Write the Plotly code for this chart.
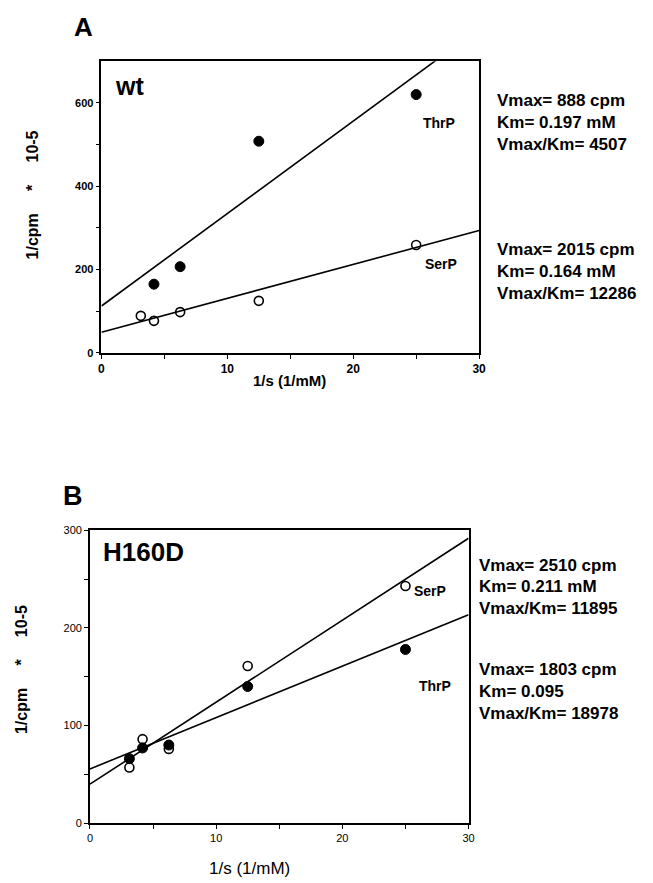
import plotly.graph_objects as go

W, H = 653, 883

# ---- data ----
# Panel A (wt)
a_thrp_x = [4.17, 6.25, 12.5, 25.0]
a_thrp_y = [165, 207, 508, 620]
a_serp_x = [3.125, 4.17, 6.25, 12.5, 25.0]
a_serp_y = [89, 77, 98, 125, 259]
a_vmax = {"ThrP": 888, "SerP": 2015}
a_km = {"ThrP": 0.197, "SerP": 0.164}

# Panel B (H160D)
b_serp_x = [3.125, 4.17, 6.25, 12.5, 25.0]
b_serp_y = [57, 86, 76, 161, 243]
b_thrp_x = [3.125, 4.17, 6.25, 12.5, 25.0]
b_thrp_y = [66, 77, 80, 140, 178]
b_vmax = {"SerP": 2510, "ThrP": 1803}
b_km = {"SerP": 0.211, "ThrP": 0.095}

x_ticks = [0, 5, 10, 15, 20, 25, 30]
x_ticktext = ["0", "", "10", "", "20", "", "30"]
a_y_ticks = [0, 100, 200, 300, 400, 500, 600]
a_y_ticktext = ["0", "", "200", "", "400", "", "600"]
b_y_ticks = [0, 50, 100, 150, 200, 250, 300]
b_y_ticktext = ["0", "", "100", "", "200", "", "300"]

FONT = "Liberation Sans, Arial, Helvetica, sans-serif"


def px(x):
    return x / W


def py(y):
    return 1 - y / H


def fit_line(vmax, km):
    xs = [0, 30]
    ys = [1e5 / vmax + 1e5 * km / vmax * x for x in xs]
    return xs, ys


fig = go.Figure()

line_style = dict(color="black", width=1.6)
filled = dict(symbol="circle", size=10, color="black", line=dict(color="black", width=1))
openm = dict(symbol="circle-open", size=9, color="black", line=dict(color="black", width=1.6))

# Panel A
for name in ["ThrP", "SerP"]:
    lx, ly = fit_line(a_vmax[name], a_km[name])
    fig.add_trace(go.Scatter(x=lx, y=ly, mode="lines", line=line_style, xaxis="x", yaxis="y", showlegend=False))
fig.add_trace(go.Scatter(x=a_thrp_x, y=a_thrp_y, mode="markers", marker=filled, xaxis="x", yaxis="y", showlegend=False))
fig.add_trace(go.Scatter(x=a_serp_x, y=a_serp_y, mode="markers", marker=openm, xaxis="x", yaxis="y", showlegend=False))

# Panel B
for name in ["SerP", "ThrP"]:
    lx, ly = fit_line(b_vmax[name], b_km[name])
    fig.add_trace(go.Scatter(x=lx, y=ly, mode="lines", line=line_style, xaxis="x2", yaxis="y2", showlegend=False))
fig.add_trace(go.Scatter(x=b_thrp_x, y=b_thrp_y, mode="markers", marker=filled, xaxis="x2", yaxis="y2", showlegend=False))
fig.add_trace(go.Scatter(x=b_serp_x, y=b_serp_y, mode="markers", marker=openm, xaxis="x2", yaxis="y2", showlegend=False))

axis_common = dict(showgrid=False, zeroline=False, showline=True, linecolor="black", linewidth=1.6,
                   mirror=True, ticks="outside", ticklen=4, tickwidth=1.3, tickcolor="black")

fig.update_layout(
    width=W, height=H,
    margin=dict(l=0, r=0, t=0, b=0),
    paper_bgcolor="white", plot_bgcolor="white",
    font=dict(family=FONT, color="black"),
    xaxis=dict(domain=[px(100), px(483.5)], anchor="y", range=[0, 30], tickvals=x_ticks, ticktext=x_ticktext,
               tickfont=dict(size=12, family=FONT, weight="bold"), **axis_common),
    yaxis=dict(domain=[py(351.7), py(56)], anchor="x", range=[0, 700], tickvals=a_y_ticks, ticktext=a_y_ticktext,
               tickfont=dict(size=11, family=FONT, weight="bold"), **axis_common),
    xaxis2=dict(domain=[px(88.3), px(472.8)], anchor="y2", range=[0, 30], tickvals=x_ticks, ticktext=x_ticktext,
                tickfont=dict(size=11, family=FONT), **axis_common),
    yaxis2=dict(domain=[py(828.3), py(531.7)], anchor="x2", range=[0, 300], tickvals=b_y_ticks, ticktext=b_y_ticktext,
                tickfont=dict(size=11, family=FONT), **axis_common),
)

nb = "\u00a0"
ann = []


def text(x, y, s, size, bold=True, xanchor="left", yanchor="middle", angle=0):
    ann.append(dict(x=px(x), y=py(y), xref="paper", yref="paper", text=s, showarrow=False,
                    xanchor=xanchor, yanchor=yanchor, textangle=angle, borderpad=0,
                    font=dict(size=size, family=FONT, color="black", weight="bold" if bold else "normal")))


# Panel labels
text(71, 21, "A", 26)
text(60, 497, "B", 27)

# Axis titles
ytitle = "1/cpm" + nb * 5 + "*" + nb * 5 + "10-5"
text(29.5, 192, ytitle, 16, xanchor="center", angle=-90)
text(19.5, 673, ytitle, 16, xanchor="center", angle=-90)
text(291, 380, "1/s (1/mM)", 15, xanchor="center")
text(250, 874, "1/s (1/mM)", 17, bold=False, xanchor="center")

# In-plot labels
text(113, 81, "wt", 25)
text(101, 554, "H160D", 26)
text(426, 119, "ThrP", 14)
text(428, 262, "SerP", 14)
text(416, 593, "SerP", 14)
text(421, 689, "ThrP", 14)

# Kinetic parameters
def block(x, y0, lines, bold=True):
    for i, s in enumerate(lines):
        text(x, y0 + i * 22, s, 17, bold=bold)


block(501, 96, ["Vmax= 888 cpm", "Km= 0.197 mM", "Vmax/Km= 4507"])
block(501, 247, ["Vmax= 2015 cpm", "Km= 0.164 mM", "Vmax/Km= 12286"])
block(482, 567, ["Vmax= 2510 cpm", "Km= 0.211 mM", "Vmax/Km= 11895"])
block(482, 673, ["Vmax= 1803 cpm", "Km= 0.095", "Vmax/Km= 18978"])

fig.update_layout(annotations=ann)
fig.write_html("out.html", config={"displayModeBar": False},
               post_script="document.body.style.margin='0';document.body.style.overflow='hidden';")
